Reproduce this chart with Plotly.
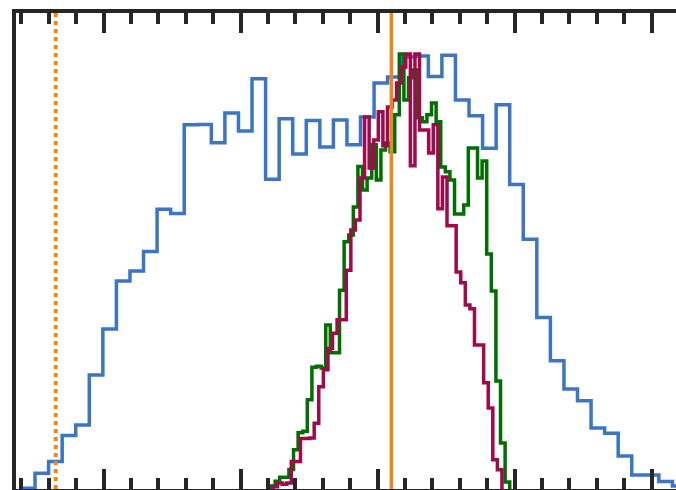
import numpy as np
import plotly.graph_objects as go

# ---- data ----
blue_start, blue_width = -0.6, 0.099
blue_counts = [0.2, 3.6, 6.3, 12.3, 14.7, 26.2, 36.8, 47.8, 50.1, 54.6, 64.3, 63.3,
               83.7, 83.8, 79.6, 86.4, 82.3, 94.3, 71.2, 85.1, 77.0, 84.7, 78.6, 84.8,
               79.1, 85.5, 93.3, 94.7, 99.3, 99.5, 94.8, 99.7, 89.4, 85.8, 78.3, 88.3,
               70.0, 57.4, 39.4, 29.5, 23.0, 20.3, 14.0, 12.8, 7.6, 3.2, 3.2, 1.7, 0.7]

green_start, green_width = 1.218, 0.03358
green_counts = [0.7, 1.8, 2.7, 2.7, 4.5, 9.0, 12.9, 13.3, 20.5, 28.0, 28.2, 27.8,
                37.7, 31.3, 31.3, 45.7, 56.8, 58.4, 64.8, 74.1, 68.7, 71.5, 79.1, 71.0,
                77.9, 79.5, 77.5, 86.0, 100.0, 89.4, 94.5, 96.3, 85.3, 84.4, 86.0, 88.7,
                84.4, 74.0, 72.9, 71.0, 63.2, 63.2, 65.3, 78.4, 78.4, 71.5, 75.4, 54.0,
                45.5, 24.8, 10.6, 1.6]

crimson_start, crimson_width = 1.236, 0.03343
crimson_counts = [0.5, 1.4, 1.1, 1.4, 6.3, 6.3, 11.6, 11.6, 11.7, 15.1, 23.5, 27.4,
                  32.3, 35.8, 38.9, 38.9, 50.3, 59.5, 61.8, 71.5, 85.5, 73.8, 80.2, 86.7,
                  78.9, 87.8, 89.4, 93.3, 97.0, 100.0, 74.3, 100.0, 82.5, 82.5, 77.2, 83.7,
                  64.4, 71.7, 60.5, 60.5, 49.9, 47.4, 42.3, 41.4, 33.1, 33.1, 24.4, 18.6,
                  6.7, 4.4]

solid_marker_x = 2.1
dotted_marker_x = -0.35

x_range = [-0.64, 4.178]
y_range = [0, 109.4]

BLUE = "#3B75C3"
GREEN = "#006E00"
CRIMSON = "#A00A4B"
ORANGE = "#F0851E"
FRAME = "#262626"


def step_xy(start, width, counts):
    edges = start + width * np.arange(len(counts) + 1)
    xs = [edges[0]] + list(edges[:-1]) + [edges[-1]]
    ys = [0] + list(counts) + [0]
    return xs, ys


fig = go.Figure()
for start, width, counts, color in [
    (blue_start, blue_width, blue_counts, BLUE),
    (green_start, green_width, green_counts, GREEN),
    (crimson_start, crimson_width, crimson_counts, CRIMSON),
]:
    xs, ys = step_xy(start, width, counts)
    fig.add_trace(go.Scatter(x=xs, y=ys, mode="lines",
                             line=dict(color=color, width=3.5, shape="hv"),
                             showlegend=False, hoverinfo="skip"))

fig.add_trace(go.Scatter(x=[solid_marker_x, solid_marker_x], y=y_range, mode="lines",
                         line=dict(color=ORANGE, width=3.5), showlegend=False))
fig.add_trace(go.Scatter(x=[dotted_marker_x, dotted_marker_x], y=y_range, mode="lines",
                         line=dict(color=ORANGE, width=4, dash="dot"), showlegend=False))

fig.update_layout(
    width=676, height=490,
    margin=dict(l=16, r=0, t=13, b=1),
    paper_bgcolor="white", plot_bgcolor="white",
    showlegend=False,
)
fig.update_xaxes(
    range=x_range, showline=True, linewidth=4, linecolor=FRAME, mirror="ticks",
    ticks="inside", ticklen=20, tickwidth=4, tickcolor=FRAME,
    tick0=0, dtick=1, showticklabels=False, showgrid=False, zeroline=False,
    minor=dict(ticks="inside", ticklen=11, tickwidth=4, tickcolor=FRAME,
               dtick=0.2, tick0=0, showgrid=False),
)
fig.update_yaxes(
    range=y_range, showline=True, linewidth=4, linecolor=FRAME,
    ticks="", showticklabels=False, showgrid=False, zeroline=False,
)

fig.write_html("out.html")
